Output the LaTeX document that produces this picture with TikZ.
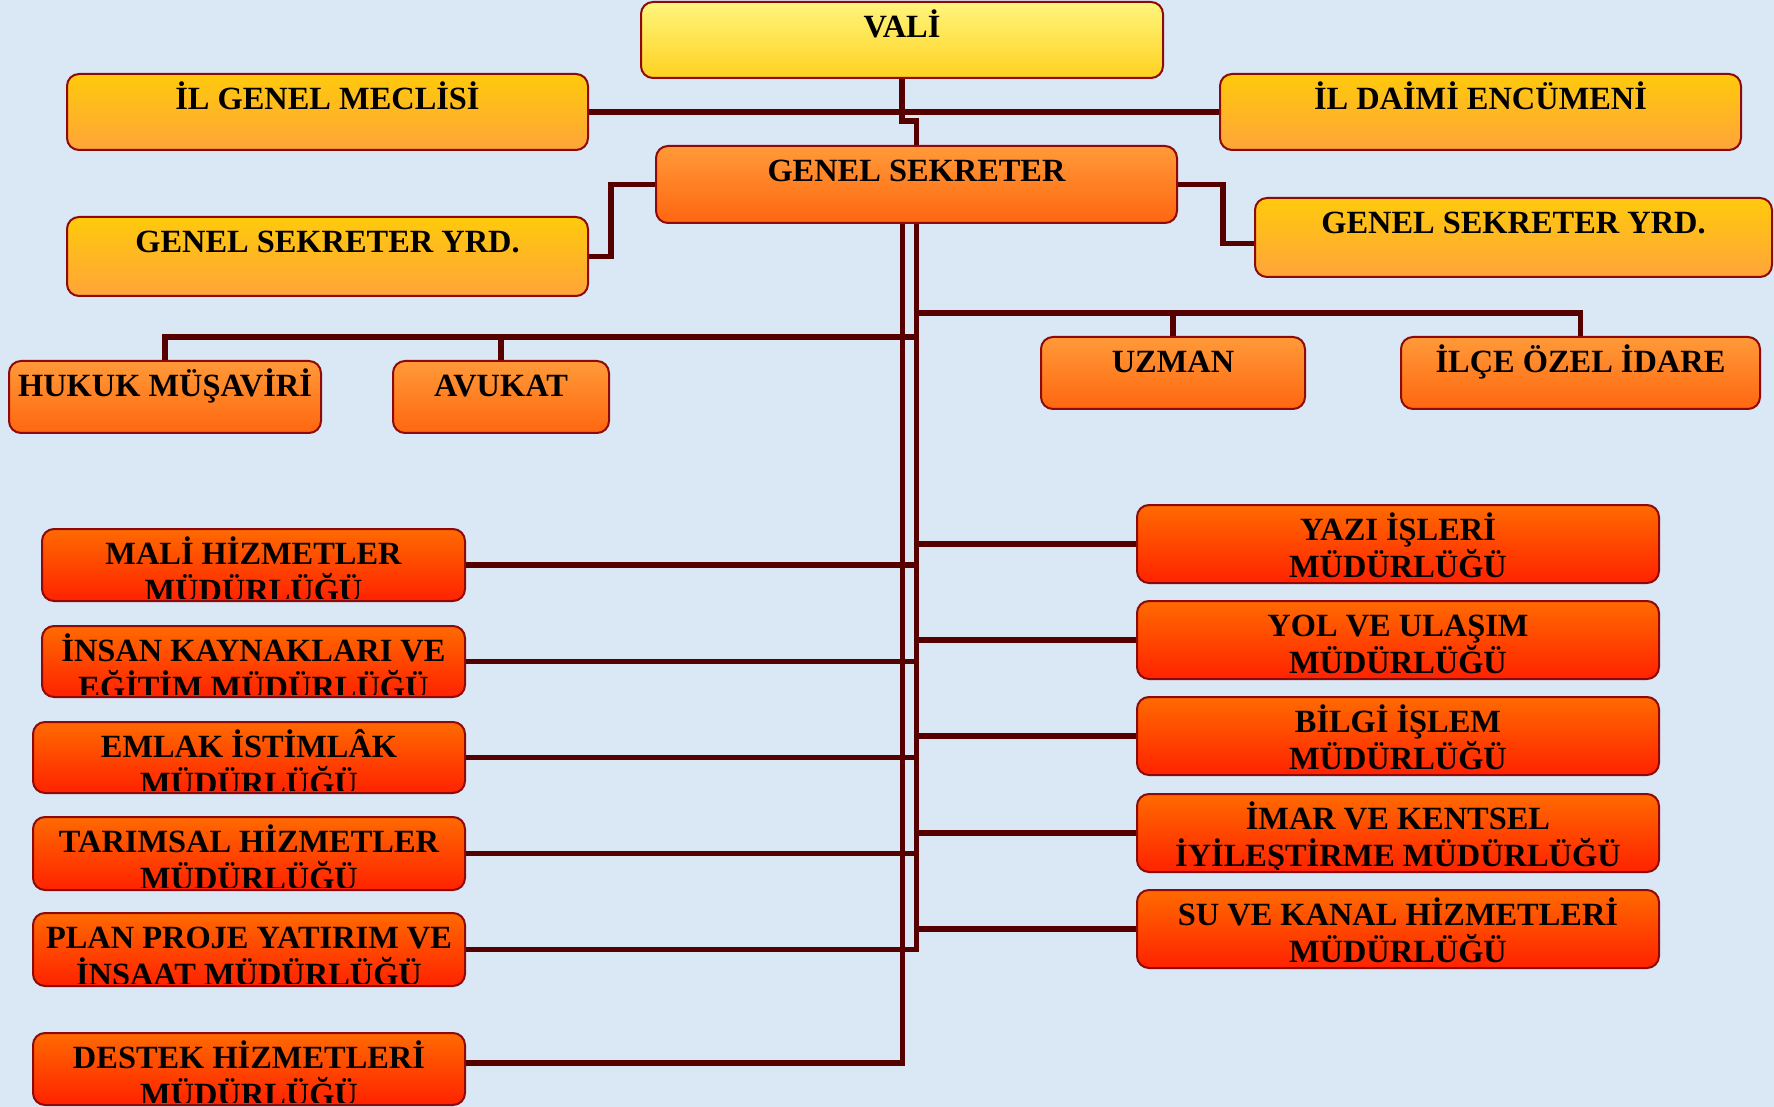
\documentclass[tikz,border=0pt]{standalone}
\usepackage{fontspec}
\setmainfont{Liberation Serif}
\usetikzlibrary{fit}
\definecolor{bg}{HTML}{DAE7F5}
\definecolor{lnc}{HTML}{560000}
\definecolor{bord}{HTML}{8E0A0A}
\definecolor{yA}{HTML}{FFF57E}
\definecolor{yB}{HTML}{FFD11F}
\definecolor{gA}{HTML}{FFCA0C}
\definecolor{gB}{HTML}{FFA43A}
\definecolor{oA}{HTML}{FF9A38}
\definecolor{oB}{HTML}{FF6610}
\definecolor{rA}{HTML}{FF6A00}
\definecolor{rB}{HTML}{FF2200}
\tikzset{
  boxbase/.style={draw=bord, line width=1pt, rounded corners=6pt, inner sep=0pt, shading=axis},
  valibox/.style={boxbase, top color=yA, bottom color=yB},
  goldbox/.style={boxbase, top color=gA, bottom color=gB},
  orgbox/.style={boxbase, top color=oA, bottom color=oB},
  redbox/.style={boxbase, top color=rA, bottom color=rB},
  lbl/.style={anchor=base, inner sep=0pt, font=\bfseries\fontsize{16.2}{18.6}\selectfont},
  conn/.style={draw=lnc, line width=2.8pt},
}
\newcommand{\lines}[1]{\parbox[t]{255pt}{\centering #1}}
\newcommand{\boxtext}[2]{%
  \begin{scope}
    \clip[rounded corners=6pt] ([yshift=2pt]#1.south west) rectangle (#1.north east);
    \node[lbl] (#1-t) at ([yshift=-18.2pt]#1.north) {\lines{#2}};
  \end{scope}}
\begin{document}
\begin{tikzpicture}[x=0.5pt,y=-0.5pt]
\fill[bg] (0,0) rectangle (1774,1107);
\useasboundingbox (0,0) rectangle (1774,1107);

% boxes
\node[valibox, fit={(641,2)(1163,78)}] (vali) {};
\node[goldbox, fit={(67,74)(588,150)}] (igm) {};
\node[goldbox, fit={(1220,74)(1741,150)}] (ide) {};
\node[orgbox, fit={(656,146)(1177,223)}] (gs) {};
\node[goldbox, fit={(67,217)(588,296)}] (gsyl) {};
\node[goldbox, fit={(1255,198)(1772,277)}] (gsyr) {};
\node[orgbox, fit={(9,361)(321,433)}] (hukuk) {};
\node[orgbox, fit={(393,361)(609,433)}] (avukat) {};
\node[orgbox, fit={(1041,337)(1305,409)}] (uzman) {};
\node[orgbox, fit={(1401,337)(1760,409)}] (ilce) {};

\node[redbox, fit={(42,529)(465,601)}] (mali) {};
\node[redbox, fit={(42,626)(465,697)}] (insan) {};
\node[redbox, fit={(33,722)(465,793)}] (emlak) {};
\node[redbox, fit={(33,817)(465,890)}] (tarim) {};
\node[redbox, fit={(33,913)(465,986)}] (plan) {};
\node[redbox, fit={(33,1033)(465,1105)}] (destek) {};

\node[redbox, fit={(1137,505)(1659,583)}] (yazi) {};
\node[redbox, fit={(1137,601)(1659,679)}] (yol) {};
\node[redbox, fit={(1137,697)(1659,775)}] (bilgi) {};
\node[redbox, fit={(1137,794)(1659,872)}] (imar) {};
\node[redbox, fit={(1137,890)(1659,968)}] (su) {};

% connectors
\coordinate (hb) at (916.5,337);
\coordinate (ub) at (916.5,313);
\draw[conn] (vali.south) -- ++(0,42) -| (gs.north);
\draw[conn] (igm.east) -- (ide.west);
\draw[conn] (gs.west) -- ++(-44,0) |- (gsyl.east);
\draw[conn] (gs.east) -- ++(45,0) |- ([yshift=-3pt]gsyr.west);
\draw[conn] ([xshift=-7pt]gs.south) |- ([yshift=3pt]destek.east);
\draw[conn] (gs.south) |- (plan.east);
\draw[conn] (mali.east) -- (mali.east -| gs.south);
\draw[conn] (insan.east) -- (insan.east -| gs.south);
\draw[conn] (emlak.east) -- (emlak.east -| gs.south);
\draw[conn] (tarim.east) -- (tarim.east -| gs.south);
\draw[conn] (yazi.west -| gs.south) -- (yazi.west);
\draw[conn] (yol.west -| gs.south) -- (yol.west);
\draw[conn] (bilgi.west -| gs.south) -- (bilgi.west);
\draw[conn] (imar.west -| gs.south) -- (imar.west);
\draw[conn] (su.west -| gs.south) -- (su.west);
\draw[conn] (hukuk.north) |- (hb);
\draw[conn] (avukat.north) -- (avukat.north |- hb);
\draw[conn] (ub) -| (ilce.north);
\draw[conn] (uzman.north) -- (uzman.north |- ub);

% texts
\boxtext{vali}{VALİ}
\boxtext{igm}{İL GENEL MECLİSİ}
\boxtext{ide}{İL DAİMİ ENCÜMENİ}
\boxtext{gs}{GENEL SEKRETER}
\boxtext{gsyl}{GENEL SEKRETER YRD.}
\boxtext{gsyr}{GENEL SEKRETER YRD.}
\boxtext{hukuk}{HUKUK MÜŞAVİRİ}
\boxtext{avukat}{AVUKAT}
\boxtext{uzman}{UZMAN}
\boxtext{ilce}{İLÇE ÖZEL İDARE}
\boxtext{mali}{MALİ HİZMETLER\\MÜDÜRLÜĞÜ}
\boxtext{insan}{İNSAN KAYNAKLARI VE\\EĞİTİM MÜDÜRLÜĞÜ}
\boxtext{emlak}{EMLAK İSTİMLÂK\\MÜDÜRLÜĞÜ}
\boxtext{tarim}{TARIMSAL HİZMETLER\\MÜDÜRLÜĞÜ}
\boxtext{plan}{PLAN PROJE YATIRIM VE\\İNSAAT MÜDÜRLÜĞÜ}
\boxtext{destek}{DESTEK HİZMETLERİ\\MÜDÜRLÜĞÜ}
\boxtext{yazi}{YAZI İŞLERİ\\MÜDÜRLÜĞÜ}
\boxtext{yol}{YOL VE ULAŞIM\\MÜDÜRLÜĞÜ}
\boxtext{bilgi}{BİLGİ İŞLEM\\MÜDÜRLÜĞÜ}
\boxtext{imar}{İMAR VE KENTSEL\\İYİLEŞTİRME MÜDÜRLÜĞÜ}
\boxtext{su}{SU VE KANAL HİZMETLERİ\\MÜDÜRLÜĞÜ}
\end{tikzpicture}
\end{document}
